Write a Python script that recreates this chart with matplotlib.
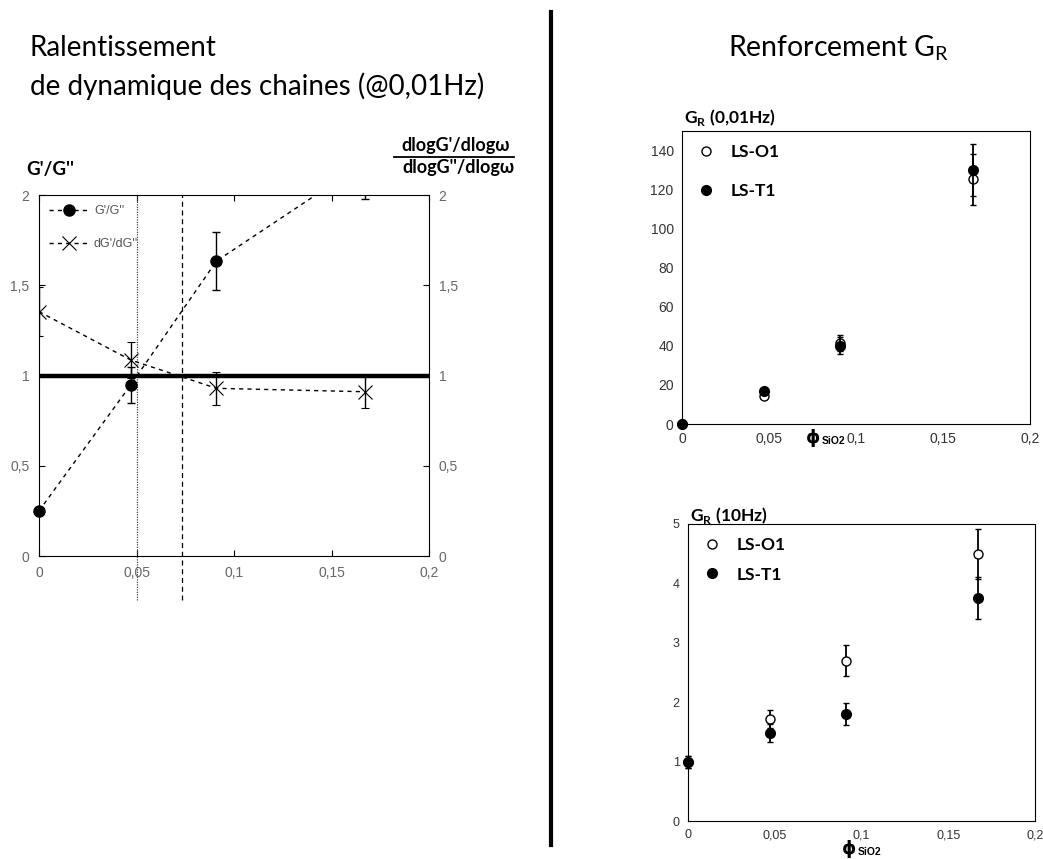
import matplotlib.pyplot as plt
import matplotlib as mpl
import numpy as np
from matplotlib.lines import Line2D
from matplotlib.ticker import FuncFormatter, MultipleLocator

# silica volume fraction
phi = [0, 0.047, 0.091, 0.167]

# left chart: slowing of chain dynamics (@0,01Hz)
ratio_g = [0.25, 0.947, 1.634, 2.18]
ratio_g_err = [0, 0.1, 0.16, 0.2]
ratio_slope = [1.354, 1.086, 0.929, 0.91]
ratio_slope_err = [0.135, 0.1, 0.09, 0.09]
phi_dotted = 0.0503
phi_dashed = 0.0732

# right top: reinforcement G_R at 0,01Hz
gr_low_o1 = [0, 14.2, 41.5, 125.2]
gr_low_o1_err = [1, 1.5, 4, 13]
gr_low_t1 = [0, 16.7, 40.1, 130.0]
gr_low_t1_err = [1, 1.5, 4.5, 13.5]

# right bottom: reinforcement G_R at 10Hz
gr_high_o1 = [1.0, 1.72, 2.70, 4.49]
gr_high_o1_err = [0.1, 0.15, 0.26, 0.42]
gr_high_t1 = [1.0, 1.48, 1.80, 3.75]
gr_high_t1_err = [0.1, 0.15, 0.18, 0.35]

W, H = 1043, 859
fig = plt.figure(figsize=(W / 100, H / 100), dpi=100)
plt.rcParams['font.family'] = ['Lato', 'DejaVu Sans']

comma = FuncFormatter(lambda v, p: ('%g' % round(v, 4)).replace('.', ','))


def px_axes(l, t, r, b):
    return fig.add_axes([l / W, 1 - b / H, (r - l) / W, (b - t) / H])


def fx(x):
    return x / W


def fy(y):
    return 1 - y / H


# ---------------- left chart
ax = px_axes(39, 195, 429, 556)
ax.axhline(1, color='black', lw=3.2, zorder=3)
ax.axvline(phi_dotted, ymin=-0.122, ymax=1, color='#444444', lw=0.9,
           ls=(0, (1, 1)), clip_on=False)
ax.axvline(phi_dashed, ymin=-0.122, ymax=1, color='black', lw=0.9,
           ls=(0, (4, 3)), clip_on=False)
ax.errorbar(phi, ratio_g, yerr=ratio_g_err, fmt='none', ecolor='black',
            capsize=3, elinewidth=1, zorder=4)
ax.plot(phi, ratio_g, color='black', ls=(0, (3, 3)), lw=1, zorder=4)
inside = np.array(ratio_g) <= 2
ax.plot(np.array(phi)[inside], np.array(ratio_g)[inside], 'o', color='black',
        ms=8, clip_on=False, zorder=5)
ax.errorbar(phi, ratio_slope, yerr=ratio_slope_err, fmt='x', color='black',
            ms=10, mew=0.8, ls=(0, (3, 3)), lw=1, capsize=3, elinewidth=1,
            zorder=4)
ax.set_xlim(0, 0.2)
ax.set_ylim(0, 2)
ax.xaxis.set_major_locator(MultipleLocator(0.05))
ax.yaxis.set_major_locator(MultipleLocator(0.5))
ax.xaxis.set_major_formatter(comma)
ax.yaxis.set_major_formatter(comma)
ax.tick_params(direction='in', top=True, right=True, labelright=True, length=4,
               labelsize=10, labelcolor='#666666', pad=7)
for lab in ax.get_xticklabels() + ax.get_yticklabels():
    lab.set_family('Liberation Sans')
for t in ax.yaxis.get_major_ticks():
    t.label2.set_family('Liberation Sans')
handles = [Line2D([], [], color='black', ls=(0, (3, 3)), lw=1, marker='o', ms=8),
           Line2D([], [], color='black', ls=(0, (3, 3)), lw=1, marker='x', ms=10, mew=0.8)]
leg = ax.legend(handles, ["G'/G''", "dG'/dG''"], loc='upper left', frameon=False,
                handlelength=3.2, labelspacing=1.7, handletextpad=0.4,
                borderaxespad=0.4, prop={'family': 'Liberation Sans', 'size': 9})
for t in leg.get_texts():
    t.set_color('#555555')

fig.text(fx(26), fy(170), "G'/G''", fontsize=13.5, fontweight='bold', va='center')
fig.text(fx(456), fy(146), "dlogG'/dlog\u03c9", fontsize=13, fontweight='bold',
         ha='center', va='center')
fig.text(fx(458), fy(168), "dlogG''/dlog\u03c9", fontsize=13, fontweight='bold',
         ha='center', va='center')
fig.add_artist(Line2D([fx(394), fx(514)], [fy(157), fy(157)], color='black', lw=1.3))

# titles and separator
fig.text(fx(30), fy(48), 'Ralentissement', fontsize=20, va='center')
fig.text(fx(30), fy(86), 'de dynamique des chaines (@0,01Hz)', fontsize=20, va='center')
fig.text(fx(728), fy(48), r'Renforcement G$_\mathregular{R}$', fontsize=20.5, va='center')
fig.add_artist(Line2D([fx(551), fx(551)], [fy(12), fy(845)], color='black', lw=3))


# ---------------- right charts
def gr_chart(box, o1, o1_err, t1, t1_err, ymax, ystep, label, label_y, xlab_xy,
             leg_anchor, lsp, tsize):
    a = px_axes(*box)
    a.errorbar(phi, o1, yerr=o1_err, fmt='o', mfc='white', mec='black', color='black',
               ms=6.5, capsize=2.5, elinewidth=1.3, zorder=3, clip_on=False)
    a.errorbar(phi, t1, yerr=t1_err, fmt='o', color='black',
               ms=7, capsize=2.5, elinewidth=1.3, zorder=4, clip_on=False)
    a.set_xlim(0, 0.2)
    a.set_ylim(0, ymax)
    a.xaxis.set_major_locator(MultipleLocator(0.05))
    a.yaxis.set_major_locator(MultipleLocator(ystep))
    a.tick_params(direction='in', length=0)
    a.tick_params(labelsize=tsize, labelcolor='#333333', pad=6)
    for lab in a.get_xticklabels() + a.get_yticklabels():
        lab.set_family('Liberation Sans')
    a.xaxis.set_major_formatter(comma)
    a.yaxis.set_major_formatter(comma)
    h = [Line2D([], [], ls='none', marker='o', mfc='white', mec='black', ms=6.5),
         Line2D([], [], ls='none', marker='o', color='black', ms=7)]
    a.legend(h, ['LS-O1', 'LS-T1'], loc='upper left', bbox_to_anchor=leg_anchor,
             frameon=False, handlelength=1, handletextpad=0.9, labelspacing=lsp,
             prop={'family': 'Lato', 'weight': 'bold', 'size': 12.5})
    fig.text(fx(box[0] + 2), fy(label_y), 'G$_\\mathregular{R}$ ' + label,
             fontsize=12.5, fontweight='bold', va='center')
    fig.text(fx(xlab_xy[0]), fy(xlab_xy[1]), '\u0278', fontsize=13, fontweight='bold',
             va='center', family=['DejaVu Sans'])
    fig.text(fx(xlab_xy[0] + 16), fy(xlab_xy[1] + 3), 'SiO2', fontsize=7.5,
             fontweight='bold', va='center', family=['Liberation Sans'])
    return a


gr_chart((682, 131, 1030, 424), gr_low_o1, gr_low_o1_err, gr_low_t1, gr_low_t1_err,
         150, 20, '(0,01Hz)', 117, (806, 438), (0.0, 1.01), 1.35, 10)
gr_chart((688, 524, 1035, 821), gr_high_o1, gr_high_o1_err, gr_high_t1, gr_high_t1_err,
         5, 1, '(10Hz)', 515, (842, 849), (0.0, 1.01), 0.8, 9)

fig.savefig('out.png', dpi=100)
